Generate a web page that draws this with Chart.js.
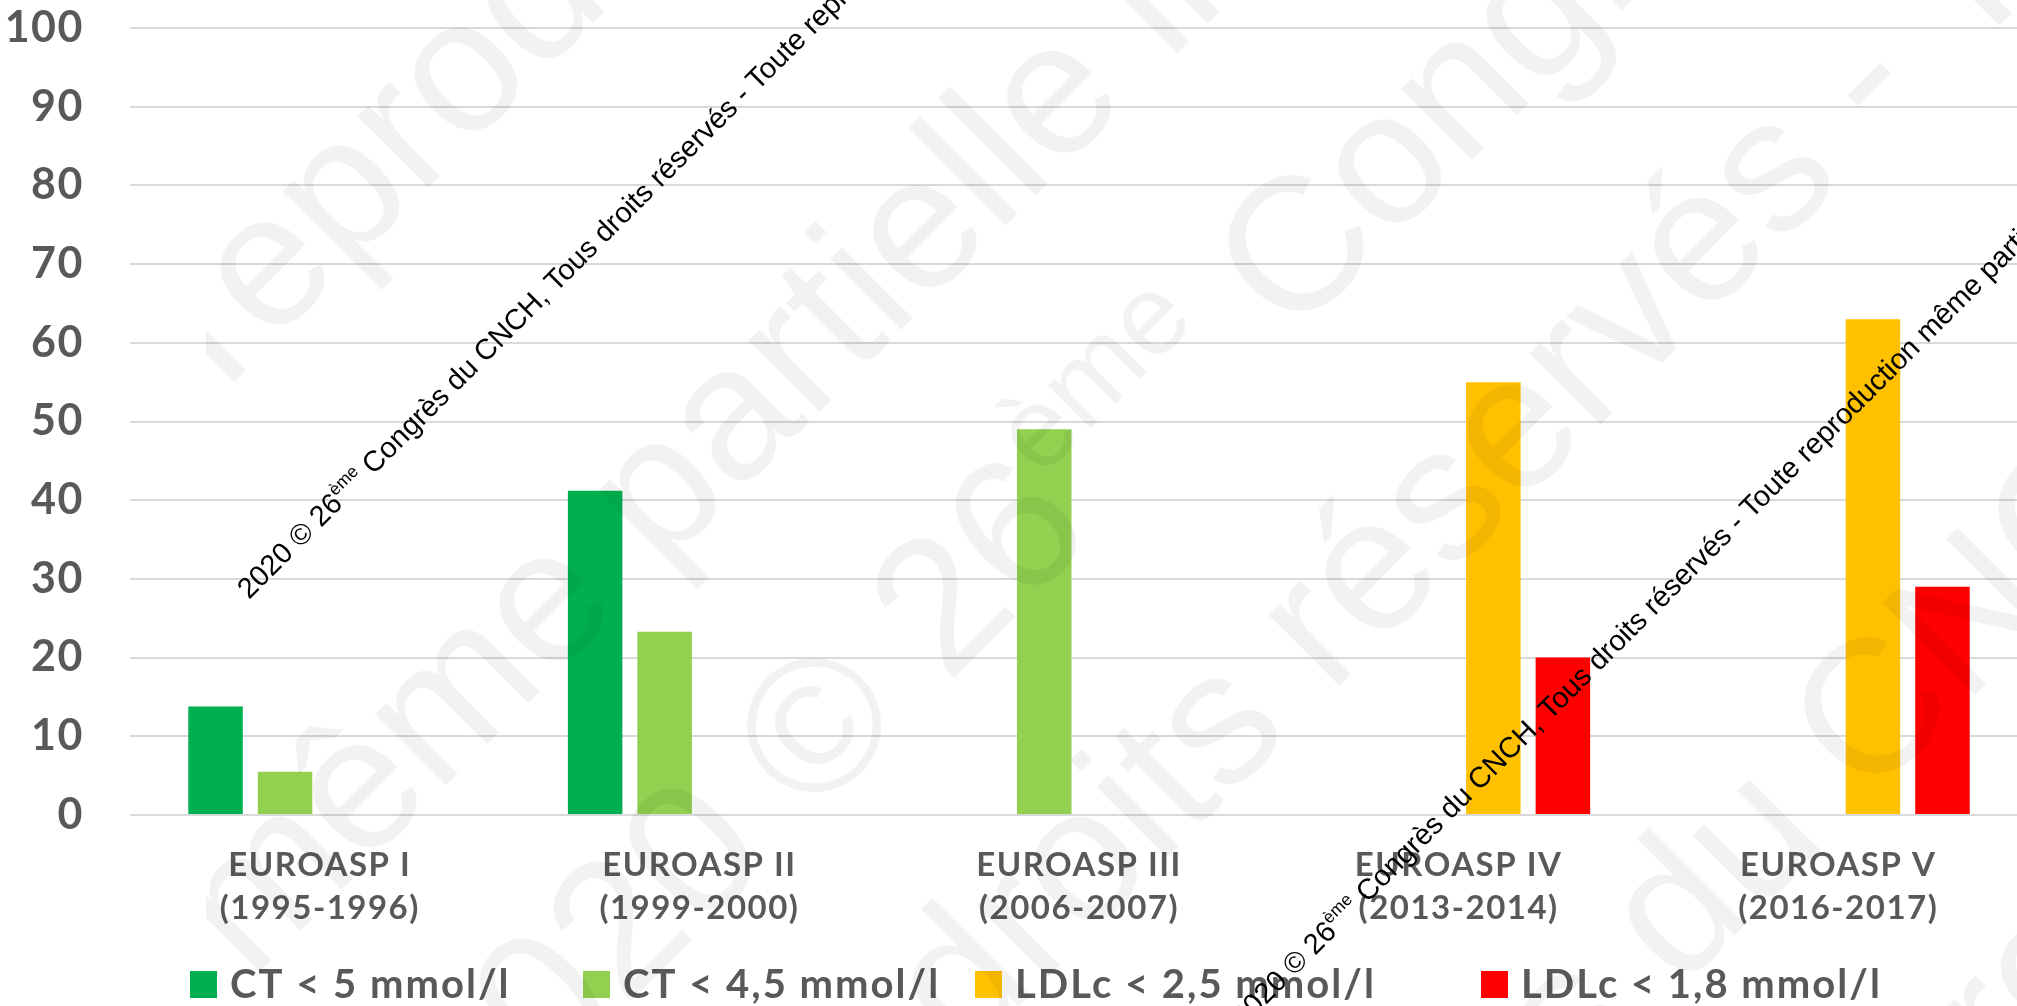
<!DOCTYPE html>
<html lang="fr">
<head>
<meta charset="utf-8">
<title>EUROASPIRE – objectifs lipidiques</title>
<script src="https://cdn.jsdelivr.net/npm/chart.js@4.4.1/dist/chart.umd.min.js"></script>
<style>
  html, body { margin: 0; padding: 0; background: #ffffff; overflow: hidden; }
  #frame { width: 2017px; height: 1006px; overflow: hidden; position: relative; }
  canvas { display: block; }
</style>
</head>
<body>
<div id="frame"><canvas id="chart" width="2030" height="1006" style="width:2030px;height:1006px"></canvas></div>
<script>
// Surveys (two-line category labels)
const surveys = [
  ["EUROASP I", "(1995-1996)"],
  ["EUROASP II", "(1999-2000)"],
  ["EUROASP III", "(2006-2007)"],
  ["EUROASP IV", "(2013-2014)"],
  ["EUROASP V", "(2016-2017)"]
];

// Series labels
const seriesNames = ["CT < 5 mmol/l", "CT < 4,5 mmol/l", "LDLc < 2,5 mmol/l", "LDLc < 1,8 mmol/l"];

// Percentage of patients reaching each target
const ctBelow5   = [13.8, 41.2, null, null, null];
const ctBelow45  = [5.5, 23.3, 49, null, null];
const ldlBelow25 = [null, null, null, 55, 63];
const ldlBelow18 = [null, null, null, 20, 29];

// Value axis
const yMin = 0;
const yMax = 100;
const yStep = 10;

const seriesColors = ["#00B050", "#92D050", "#FFC000", "#FF0000"];
const TEXT_GREY = "#595959";
const LABEL_FONT = "Lato, 'Open Sans', sans-serif";
const STAMP_FONT = "'Liberation Sans', Arial, sans-serif";

// Copyright stamp, written in runs so the ordinal suffix can be raised
const stampRuns = [
  { text: "2020 © 26", scale: 1, rise: 0 },
  { text: "ème", scale: 0.6, rise: 0.42 },
  { text: " Congrès du CNCH, Tous droits réservés - Toute reproduction même partielle interdite", scale: 1, rise: 0 }
];

function drawStamp(ctx, o) {
  ctx.save();
  ctx.letterSpacing = "0px";
  ctx.translate(o.x, o.y);
  ctx.rotate(o.angle);
  ctx.fillStyle = o.color;
  ctx.textBaseline = "alphabetic";
  ctx.textAlign = "left";
  // distance from the start of the text to the anchor word
  let offset = 0, cursor = 0, found = false;
  for (const run of stampRuns) {
    ctx.font = (o.size * run.scale) + "px " + STAMP_FONT;
    const idx = o.anchor ? run.text.indexOf(o.anchor) : -1;
    if (!found && idx >= 0) {
      offset = cursor + ctx.measureText(run.text.slice(0, idx)).width;
      found = true;
    }
    cursor += ctx.measureText(run.text).width;
  }
  let pen = -offset;
  for (const run of stampRuns) {
    ctx.font = (o.size * run.scale) + "px " + STAMP_FONT;
    ctx.fillText(run.text, pen, -run.rise * o.size);
    pen += ctx.measureText(run.text).width;
  }
  ctx.restore();
}

// Slightly tracked lettering for the axis labels
const tracking = {
  id: "tracking",
  beforeUpdate(chart, args, opts) {
    chart.ctx.letterSpacing = opts.spacing;
  }
};

// Legend row along the bottom, built from the datasets
const legendRow = {
  id: "legendRow",
  afterDraw(chart, args, opts) {
    const ctx = chart.ctx;
    ctx.save();
    ctx.letterSpacing = opts.spacing;
    ctx.font = "bold " + opts.fontSize + "px " + LABEL_FONT;
    ctx.textBaseline = "alphabetic";
    ctx.textAlign = "left";
    chart.data.datasets.forEach((ds, i) => {
      const x = opts.itemX[i];
      ctx.fillStyle = ds.backgroundColor;
      ctx.fillRect(x, opts.boxTop, opts.box, opts.box);
      ctx.fillStyle = TEXT_GREY;
      ctx.fillText(ds.label, x + opts.textGap, opts.baseline);
    });
    ctx.restore();
  }
};

// Faint large stamp pattern plus the two dark diagonal stamps
const stamps = {
  id: "stamps",
  afterDraw(chart, args, opts) {
    const ctx = chart.ctx;
    const ang = -Math.PI / 4;
    ctx.save();
    ctx.beginPath();
    ctx.rect(opts.faintLeft, 0, chart.width, chart.height);
    ctx.clip();
    opts.faint.forEach(f => drawStamp(ctx, { x: f.x, y: f.y, angle: ang, size: opts.faintSize, color: opts.faintColor, anchor: f.anchor }));
    ctx.restore();
    opts.dark.forEach(d => drawStamp(ctx, { x: d.x, y: d.y, angle: ang, size: opts.darkSize, color: opts.darkColor, anchor: null }));
  }
};

function build() {
  const datasets = [ctBelow5, ctBelow45, ldlBelow25, ldlBelow18].map((values, i) => ({
    label: seriesNames[i],
    data: values,
    backgroundColor: seriesColors[i],
    borderWidth: 0,
    categoryPercentage: 0.7325,
    barPercentage: 0.784
  }));

  new Chart(document.getElementById("chart"), {
    type: "bar",
    data: { labels: surveys, datasets },
    options: {
      responsive: false,
      animation: false,
      devicePixelRatio: 1,
      layout: { padding: { left: 0, right: 2, top: 28, bottom: 71 } },
      plugins: {
        legend: { display: false },
        tooltip: { enabled: false },
        tracking: { spacing: "1.5px" },
        legendRow: { itemX: [190, 583, 975, 1481], boxTop: 971, box: 27, textGap: 40, baseline: 998, fontSize: 40, spacing: "2px" },
        stamps: {
          faintLeft: 206,
          faintSize: 190,
          faintColor: "rgba(0,0,0,0.05)",
          faint: [
            { anchor: "reproduction", x: 225, y: 391 },
            { anchor: "même", x: 250, y: 981 },
            { anchor: "Congrès", x: 1291, y: 341 },
            { anchor: "réservés", x: 1330, y: 695 },
            { anchor: "du CNCH", x: 1680, y: 990 },
            { anchor: "reproduction", x: 2005, y: 1090 }
          ],
          darkSize: 29,
          darkColor: "#000000",
          dark: [ { x: 249, y: 600 }, { x: 1243, y: 1028 } ]
        }
      },
      scales: {
        x: {
          grid: { display: false },
          border: { display: false },
          ticks: {
            color: TEXT_GREY,
            font: { family: LABEL_FONT, weight: "bold", size: 33, lineHeight: 1.3 },
            padding: 21,
            maxRotation: 0,
            autoSkip: false
          },
          afterFit(scale) { scale.height = 120; }
        },
        y: {
          min: yMin,
          max: yMax,
          grid: {
            color: "#D9D9D9",
            lineWidth: 2,
            drawTicks: true,
            tickLength: 46,
            tickColor: "rgba(0,0,0,0)"
          },
          border: { display: false },
          ticks: {
            stepSize: yStep,
            color: TEXT_GREY,
            font: { family: LABEL_FONT, weight: "bold", size: 43 },
            padding: 0
          },
          afterFit(scale) { scale.width = 130; }
        }
      }
    },
    plugins: [tracking, legendRow, stamps]
  });
}

if (document.fonts && document.fonts.load) {
  Promise.all([
    document.fonts.load("bold 42px Lato"),
    document.fonts.load("29px 'Liberation Sans'")
  ]).then(build, build);
} else {
  build();
}
</script>
</body>
</html>
